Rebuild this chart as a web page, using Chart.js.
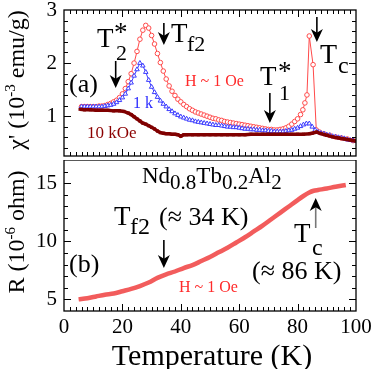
<!DOCTYPE html>
<html>
<head>
<meta charset="utf-8">
<script src="https://cdn.jsdelivr.net/npm/chart.js@4.4.0/dist/chart.umd.min.js"></script>
<style>
body { margin: 0; background: #fff; }
#wrap { position: relative; width: 374px; height: 369px; }
canvas { position: absolute; left: 0; }
#chiChart { top: 0; }
#resChart { top: 160px; }
</style>
</head>
<body>
<div id="wrap">
  <canvas id="chiChart" width="374" height="161"></canvas>
  <canvas id="resChart" width="374" height="209"></canvas>
</div>
<script>
// panel (a): ac susceptibility, H ~ 1 Oe
const tempRed = [6,7,8,9,10,11,12,13,14,15,16,17,18,19,20,21,22,23,24,25,26,27,28,29,30,31,32,33,34,35,
  36,37,38,39,40,41,42,43,44,45,46,47,48,49,50,51,52,53,54,55,56,57,58,59,60,61,62,63,64,65,
  66,67,68,69,70,71,72,73,74,75,76,77,78,79,80,81,81.8,82.5,83.2,84,85.3,86.4,87.5,89,91,93,95,97,99];
const chiRed = [1.18,1.18,1.18,1.18,1.18,1.18,1.19,1.19,1.20,1.22,1.24,1.27,1.30,1.35,1.42,1.52,1.65,1.80,2.00,2.22,
  2.45,2.62,2.71,2.66,2.52,2.36,2.18,2.01,1.85,1.70,1.57,1.47,1.39,1.32,1.27,1.22,1.18,1.14,1.11,1.08,
  1.06,1.04,1.02,1.00,0.98,0.96,0.95,0.93,0.92,0.90,0.89,0.88,0.87,0.86,0.85,0.84,0.83,0.82,0.81,0.80,
  0.79,0.78,0.77,0.76,0.75,0.75,0.74,0.74,0.75,0.76,0.78,0.81,0.85,0.90,0.95,1.03,1.12,1.25,1.40,2.51,1.97,0.74,
  0.70,0.67,0.64,0.61,0.59,0.57,0.54];

// 1 kOe
const tempBlue = [6,7,8,9,10,11,12,13,14,15,16,17,18,19,20,21,22,23,24,25,26,27,28,29,30,31,32,33,34,35,
  36,37,38,39,40,41,42,43,44,45,46,47,48,49,50,51,52,53,54,55,56,57,58,59,60,61,62,63,64,65,
  66,67,68,69,70,71,72,73,74,75,76,77,78,79,80,81,82,83,84,85,86,87,88,89,90,91,92,93,94,95,96,97,98,99];
const chiBlue = [1.18,1.18,1.18,1.18,1.18,1.18,1.18,1.18,1.19,1.20,1.21,1.23,1.26,1.30,1.35,1.42,1.52,1.63,1.76,1.88,
  2.00,1.95,1.83,1.68,1.55,1.45,1.36,1.29,1.23,1.18,1.13,1.09,1.05,1.02,0.99,0.97,0.95,0.93,0.92,0.90,
  0.89,0.88,0.87,0.86,0.85,0.84,0.83,0.83,0.82,0.81,0.80,0.80,0.79,0.79,0.78,0.77,0.76,0.76,0.75,0.75,
  0.74,0.74,0.73,0.73,0.72,0.72,0.71,0.71,0.71,0.71,0.72,0.73,0.74,0.76,0.78,0.81,0.84,0.86,0.86,0.80,
  0.74,0.70,0.68,0.67,0.65,0.64,0.62,0.61,0.60,0.59,0.58,0.56,0.55,0.54];

// 10 kOe
const tempDark = [5.5,7,9,11,13,15,17,19,20.5,22,23,24,25,26,27,28,29,30,31,32,33,34,35,36,37,38,39,40,41,42,
  44,46,48,50,52,54,56,58,60,62,64,66,68,70,72,74,76,78,80,82,84,85,86.5,88,90,92,94,96,98,100];
const chiDark = [1.13,1.12,1.12,1.11,1.11,1.11,1.10,1.10,1.09,1.06,1.03,0.99,0.95,0.91,0.87,0.85,0.82,0.79,0.76,0.72,
  0.69,0.68,0.67,0.67,0.66,0.66,0.65,0.62,0.65,0.65,
  0.65,0.65,0.65,0.65,0.65,0.65,0.65,0.65,0.65,0.65,0.66,0.66,0.66,0.66,0.66,0.66,0.66,0.66,0.66,0.66,0.67,
  0.68,0.70,0.67,0.64,0.61,0.59,0.57,0.55,0.53];

// panel (b): resistance
const tempRes = [5,8,11,14,17,20,23,26,29,32,35,38,41,44,47,50,53,56,59,62,65,68,71,74,77,80,82,84,85.5,87,90,93,96.5];
const resVals = [5.0,5.1,5.25,5.4,5.5,5.7,5.9,6.15,6.45,6.85,7.15,7.4,7.7,7.95,8.3,8.65,9.05,9.45,9.9,10.35,
  10.85,11.35,11.9,12.45,13.0,13.55,13.9,14.2,14.35,14.42,14.55,14.7,14.85];

const tempTicks = [0, 20, 40, 60, 80, 100];
const chiTicks = [1, 2, 3];
const resTicks = [5, 10, 15];

const SERIF = '"Liberation Serif", "Times New Roman", serif';
const pts = (xs, ys) => xs.map((x, i) => ({ x: x, y: ys[i] }));

function put(ctx, s, x, y, size, color) {
    ctx.font = size + 'px ' + SERIF;
    ctx.fillStyle = color || '#000';
    ctx.textAlign = 'left';
    ctx.textBaseline = 'alphabetic';
    ctx.fillText(s, x, y);
    return x + ctx.measureText(s).width;
}

// vertical arrow, tail at y0, tip at y1
function arrow(ctx, x, y0, y1, head, w, shaft) {
    const dir = y1 > y0 ? 1 : -1;
    ctx.save();
    ctx.strokeStyle = shaft || '#000';
    ctx.lineWidth = 1.6;
    ctx.beginPath();
    ctx.moveTo(x, y0);
    ctx.lineTo(x, y1 - dir * head * 0.6);
    ctx.stroke();
    ctx.fillStyle = '#000';
    ctx.beginPath();
    ctx.moveTo(x, y1);
    ctx.lineTo(x - w / 2, y1 - dir * head);
    ctx.lineTo(x, y1 - dir * head * 0.72);
    ctx.lineTo(x + w / 2, y1 - dir * head);
    ctx.closePath();
    ctx.fill();
    ctx.restore();
}

// rotated axis title made of pieces [text, size, raise]
function vTitle(ctx, parts, x, yc) {
    ctx.save();
    let total = 0;
    parts.forEach(p => { ctx.font = p[1] + 'px ' + SERIF; total += ctx.measureText(p[0]).width; });
    ctx.translate(x, yc);
    ctx.rotate(-Math.PI / 2);
    let u = -total / 2;
    parts.forEach(p => { u = put(ctx, p[0], u, -(p[2] || 0), p[1]); });
    ctx.restore();
}

function frameTicks(yStep, yMajor, drawTop) {
    return {
        id: 'frameTicks',
        afterDatasetsDraw(chart) {
            const { ctx, chartArea: a, scales: { x, y } } = chart;
            ctx.save();
            ctx.strokeStyle = '#000';
            ctx.lineWidth = 1.3;
            ctx.strokeRect(a.left, a.top, a.right - a.left, a.bottom - a.top);
            ctx.lineWidth = 1;
            ctx.beginPath();
            for (let t = 2; t < 100; t += 2) {
                const px = Math.round(x.getPixelForValue(t)) + 0.5;
                const len = t % 20 === 0 ? 7 : 4;
                ctx.moveTo(px, a.bottom); ctx.lineTo(px, a.bottom - len);
                if (drawTop) { ctx.moveTo(px, a.top); ctx.lineTo(px, a.top + len); }
            }
            for (let k = 1; k * yStep < y.max; k++) {
                const v = k * yStep;
                if (v <= y.min) continue;
                const py = Math.round(y.getPixelForValue(v)) + 0.5;
                const len = k % yMajor === 0 ? 7 : 4;
                ctx.moveTo(a.left, py); ctx.lineTo(a.left + len, py);
                ctx.moveTo(a.right, py); ctx.lineTo(a.right - len, py);
            }
            ctx.stroke();
            ctx.restore();
        }
    };
}

function yScale(min, max, ticks) {
    return {
        min: min, max: max,
        grid: { display: false, drawTicks: false },
        border: { display: false },
        ticks: { color: '#000', padding: 7, font: { family: SERIF, size: 21 } },
        afterBuildTicks: s => { s.ticks = ticks.map(v => ({ value: v })); },
        afterFit: s => { s.width = 64; s.paddingTop = 0; s.paddingBottom = 0; }
    };
}

const chiAnnotations = {
    id: 'chiText',
    afterDraw(chart) {
        const ctx = chart.ctx;
        const x = chart.scales.x;
        // T2*
        put(ctx, 'T', 97, 47, 27);
        put(ctx, '*', 114, 41, 27);
        put(ctx, '2', 116, 60, 22);
        arrow(ctx, x.getPixelForValue(17.7), 61, 88, 13, 12);
        // Tf2
        arrow(ctx, x.getPixelForValue(34.2), 23, 45, 13, 12);
        put(ctx, 'T', 171, 42, 27);
        put(ctx, 'f2', 187, 51, 22);
        // T1*
        put(ctx, 'T', 260, 85, 27);
        put(ctx, '*', 278, 80, 27);
        put(ctx, '1', 279, 100, 22);
        arrow(ctx, x.getPixelForValue(70.5), 93, 123, 13, 12);
        // Tc
        arrow(ctx, x.getPixelForValue(86.6), 17, 42, 13, 12);
        put(ctx, 'T', 320, 63, 28);
        put(ctx, 'c', 338, 73, 24);
        put(ctx, '(a)', 69, 92, 26);
        put(ctx, 'H ~ 1 Oe', 185, 86, 16, '#ff2a2a');
        put(ctx, '1 k', 133, 108, 16, '#2a2aff');
        put(ctx, '10 kOe', 87, 138, 17, '#8b0000');
        vTitle(ctx, [["\u03c7' (10", 24], ['-3', 15, 9], [' emu/g)', 24]], 24, 80);
    }
};

const resAnnotations = {
    id: 'resText',
    afterDraw(chart) {
        const ctx = chart.ctx;
        const x = chart.scales.x;
        // page y minus 160
        let cx = put(ctx, 'Nd', 142, 23, 23);
        cx = put(ctx, '0.8', cx, 29, 21);
        cx = put(ctx, 'Tb', cx, 23, 23);
        cx = put(ctx, '0.2', cx, 29, 21);
        cx = put(ctx, 'Al', cx, 23, 23);
        put(ctx, '2', cx, 29, 21);
        put(ctx, 'T', 114, 65, 27);
        put(ctx, 'f2', 130, 74, 24);
        put(ctx, '(\u2248 34 K)', 159, 65, 26);
        arrow(ctx, x.getPixelForValue(34.2), 80, 108, 13, 12);
        arrow(ctx, x.getPixelForValue(86.2), 68, 38, 13, 12, '#777');
        put(ctx, 'T', 294, 82, 27);
        put(ctx, 'c', 312, 95, 24);
        put(ctx, '(\u2248 86 K)', 252, 119, 26);
        put(ctx, '(b)', 69, 112, 26);
        put(ctx, 'H ~ 1 Oe', 179, 132, 16, '#ff2a2a');
        vTitle(ctx, [['R (10', 24], ['-6', 15, 9], [' ohm)', 24]], 24, 72);
        ctx.save();
        ctx.font = '30px ' + SERIF;
        ctx.fillStyle = '#000';
        ctx.textAlign = 'center';
        ctx.fillText('Temperature (K)', 212, 205);
        ctx.restore();
    }
};

const chiChart = new Chart(document.getElementById('chiChart'), {
    type: 'line',
    data: {
        datasets: [
            {
                label: '10 kOe', data: pts(tempDark, chiDark), order: 0,
                borderColor: '#800000', backgroundColor: '#800000', borderWidth: 3.5,
                pointStyle: 'rect', pointRadius: 2.2, pointBorderWidth: 0
            },
            {
                label: '1 kOe', data: pts(tempBlue, chiBlue), order: 1,
                borderColor: '#3b3bff', backgroundColor: '#fff', borderWidth: 1,
                pointStyle: 'triangle', pointRadius: 2.6, pointBorderWidth: 1
            },
            {
                label: 'H ~ 1 Oe', data: pts(tempRed, chiRed), order: 2,
                borderColor: '#ff4a4a', backgroundColor: '#fff', borderWidth: 1,
                pointStyle: 'circle', pointRadius: 2.3, pointBorderWidth: 1
            }
        ]
    },
    options: {
        responsive: false,
        animation: false,
        layout: { padding: { left: 0, right: 18, top: 10, bottom: 1 } },
        plugins: { legend: { display: false }, tooltip: { enabled: false } },
        scales: {
            x: { type: 'linear', min: 0, max: 100, display: false },
            y: yScale(0.25, 3, chiTicks)
        }
    },
    plugins: [frameTicks(0.2, 5, true), chiAnnotations]
});

const resChart = new Chart(document.getElementById('resChart'), {
    type: 'line',
    data: {
        datasets: [{
            label: 'R', data: pts(tempRes, resVals),
            borderColor: '#f25c5c', borderWidth: 4.5, pointRadius: 0, tension: 0.3
        }]
    },
    options: {
        responsive: false,
        animation: false,
        layout: { padding: { left: 0, right: 18, top: 0, bottom: 0 } },
        plugins: { legend: { display: false }, tooltip: { enabled: false } },
        scales: {
            x: {
                type: 'linear', min: 0, max: 100,
                grid: { display: false, drawTicks: false },
                border: { display: false },
                ticks: { color: '#000', padding: 4, maxRotation: 0, font: { family: SERIF, size: 21 } },
                afterBuildTicks: s => { s.ticks = tempTicks.map(v => ({ value: v })); },
                afterFit: s => { s.height = 58; s.paddingLeft = 0; s.paddingRight = 0; }
            },
            y: yScale(4, 17, resTicks)
        }
    },
    plugins: [frameTicks(1, 5, false), resAnnotations]
});
</script>
</body>
</html>
